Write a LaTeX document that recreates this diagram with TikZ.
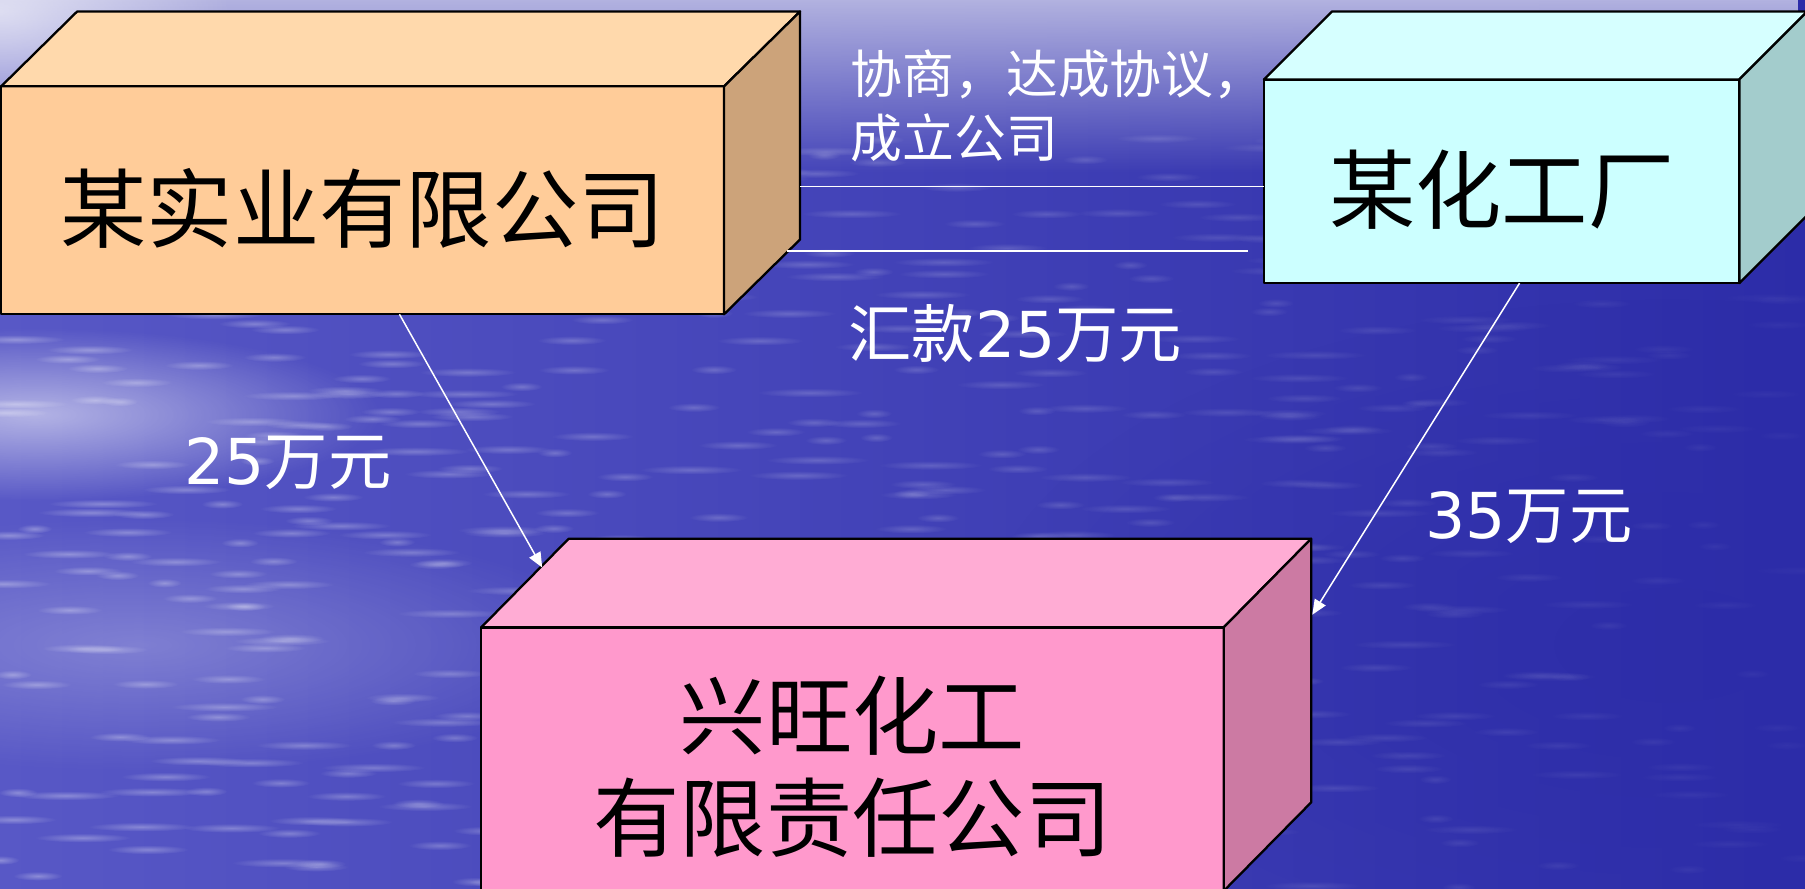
\documentclass[tikz,border=0pt]{standalone}
\usepackage{fontspec}
\setmainfont{DejaVu Sans}
\newfontfamily\cjk{Noto Sans CJK SC}
\usetikzlibrary{arrows.meta,fadings}
\definecolor{bgleft}{RGB}{88,88,198}
\definecolor{bgmid}{RGB}{62,62,184}
\definecolor{bgright}{RGB}{44,44,168}
\definecolor{bgtopband}{RGB}{178,178,224}
\definecolor{fA}{RGB}{255,204,153}
\definecolor{tA}{RGB}{255,217,172}
\definecolor{sA}{RGB}{204,163,122}
\definecolor{fB}{RGB}{204,255,255}
\definecolor{tB}{RGB}{214,255,255}
\definecolor{sB}{RGB}{163,204,204}
\definecolor{fC}{RGB}{255,153,204}
\definecolor{tC}{RGB}{255,172,212}
\definecolor{sC}{RGB}{204,122,163}
\tikzfading[name=glowfade, inner color=transparent!0, outer color=transparent!100]
\tikzfading[name=bandfade, top color=transparent!0, bottom color=transparent!100]
\begin{document}
\begin{tikzpicture}[x=1pt,y=-1pt,
  face/.style={draw=black, line width=2pt, line join=round},
  front/.style={face, inner sep=0pt, outer sep=0pt, anchor=north west},
  boxtext/.style={font=\cjk\fontsize{75}{88}\selectfont, text=black, align=center, inner sep=0pt},
  lbl/.style={font=\fontsize{55}{66}\selectfont, text=white, inner sep=0pt},
  link/.style={draw=white, line width=1.3pt},
  flow/.style={link, -{Triangle[length=13pt,width=11pt]}}]
\useasboundingbox (0,0) rectangle (1568,772);
\clip (0,0) rectangle (1568,772);
% background
\shade[left color=bgleft, middle color=bgmid, right color=bgright] (0,0) rectangle (1568,772);
\fill[bgtopband, path fading=bandfade] (0,0) rectangle (1568,150);
\fill[white, opacity=0.6, path fading=glowfade] (0,10) ellipse [x radius=200, y radius=110];
\fill[white, opacity=0.55, path fading=glowfade] (30,360) ellipse [x radius=300, y radius=75];
\fill[white, opacity=0.25, path fading=glowfade] (120,560) ellipse [x radius=420, y radius=110];
\fill[bgright, opacity=0.6, path fading=glowfade] (1450,560) ellipse [x radius=600, y radius=300];
% water streaks
\pgfmathsetseed{7}
\foreach \i in {1,...,520}{
  \pgfmathsetmacro{\xx}{rnd*1568}
  \pgfmathsetmacro{\yy}{110+rnd*662}
  \pgfmathsetmacro{\rr}{14+rnd*34}
  \pgfmathsetmacro{\oo}{0.32*(1-\xx/1750)}
  \fill[white, opacity=\oo, path fading=glowfade] (\xx,\yy) ellipse [x radius=\rr, y radius=4];
}

% box 1
\node[front, fill=fA, minimum width=628pt, minimum height=198pt] (b1) at (1,75) {};
\filldraw[face, fill=tA] (b1.north west) -- ++(66,-65) -- ++(628,0) -- (b1.north east) -- cycle;
\filldraw[face, fill=sA] (b1.north east) -- ++(66,-65) -- ++(0,198) -- (b1.south east) -- cycle;
\node[boxtext] (t1) at ([yshift=-7pt]b1.center) {某实业有限公司};

% box 2
\node[front, fill=fB, minimum width=413pt, minimum height=177pt] (b2) at (1098,69) {};
\filldraw[face, fill=tB] (b2.north west) -- ++(59,-59) -- ++(413,0) -- (b2.north east) -- cycle;
\filldraw[face, fill=sB] (b2.north east) -- ++(59,-59) -- ++(0,177) -- (b2.south east) -- cycle;
\node[boxtext] (t2) at ([yshift=-7pt]b2.center) {某化工厂};

% box 3
\node[front, fill=fC, minimum width=645pt, minimum height=229pt] (b3) at (418,545) {};
\filldraw[face, fill=tC] (b3.north west) -- ++(76,-77) -- ++(645,0) -- (b3.north east) -- cycle;
\filldraw[face, fill=sC] (b3.north east) -- ++(76,-77) -- ++(0,229) -- (b3.south east) -- cycle;
\node[boxtext] (t3) at ([yshift=-6.5pt]b3.center) {兴旺化工\\有限责任公司};

% connectors
\coordinate (c1) at (695,162);
\coordinate (c2) at (684,218);
\coordinate (c3) at (1084,218);
\coordinate (a1) at (347,273);
\coordinate (a1e) at (471,493);
\coordinate (a2) at (1320,246);
\coordinate (a2e) at (1140,534);
\draw[link] (c1) -- (c1 -| b2.west);
\draw[link] (c2) -- (c3);
\draw[flow] (a1) -- (a1e);
\draw[flow] (a2) -- (a2e);

% labels
\node[lbl, anchor=west, font=\cjk\fontsize{45}{55}\selectfont, align=left] (l0) at (739,92) {协商，达成协议，\\成立公司};
\node[lbl] (l1) at (882,290) {{\cjk 汇款}25{\cjk 万元}};
\node[lbl] (l2) at (250,402) {25{\cjk 万元}};
\node[lbl] (l3) at (1328,449) {35{\cjk 万元}};
\end{tikzpicture}
\end{document}
